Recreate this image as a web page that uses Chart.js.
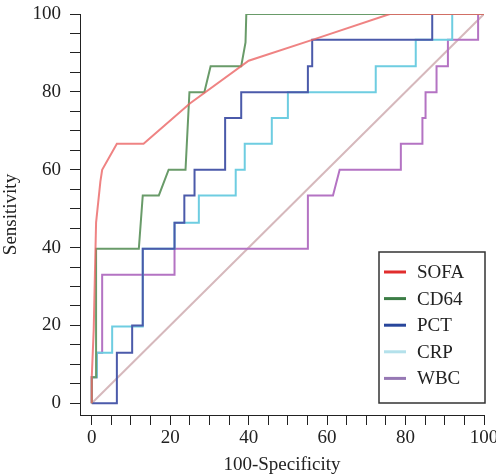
<!DOCTYPE html>
<html>
<head>
<meta charset="utf-8">
<script src="https://cdn.jsdelivr.net/npm/chart.js@4/dist/chart.umd.min.js"></script>
<style>
  html, body { margin: 0; padding: 0; background: #fff; }
  #rocChart { display: block; }
</style>
</head>
<body>
<canvas id="rocChart" width="496" height="476"></canvas>
<script>
// Curvas ROC: [100-Especificidad, Sensibilidad]
const curvaSOFA = [[0,0],[0,6.7],[0.5,19],[0.8,33],[1.1,46.4],[2.2,57],[2.65,60],[6.4,66.7],[13.2,66.7],
    [25,77],[40,88],[57,93.6],[76,100],[100,100]];
const curvaCD64 = [[0,0],[0,6.7],[1.1,6.7],[1.1,39.7],[12,39.7],[13,53.4],[17.1,53.4],[19.6,60],[23.9,60],
    [24.9,79.9],[28.7,79.9],[30.3,86.6],[38.1,86.6],[39.2,92.7],[39.4,100],[100,100]];
const curvaPCT = [[0,0],[6.4,0],[6.4,13],[10.3,13],[10.3,20],[13,20],[13,39.7],[21.1,39.7],[21.1,46.4],
    [23.6,46.4],[23.6,53.4],[26.2,53.4],[26.2,60],[34,60],[34,73.3],[38.1,73.3],[38.1,79.9],[55.1,79.9],
    [55.1,86.6],[56.2,86.6],[56.2,93.4],[86.8,93.4],[86.8,100],[100,100]];
const curvaCRP = [[0,0],[0,6.7],[1.3,6.7],[1.3,13],[5.2,13],[5.2,19.7],[13,19.7],[13,39.7],[21.1,39.7],
    [21.1,46.4],[27.3,46.4],[27.3,53.4],[36.7,53.4],[36.7,60],[39,60],[39,66.7],[45.9,66.7],[45.9,73.3],
    [50,73.3],[50,79.9],[72.4,79.9],[72.4,86.6],[82.6,86.6],[82.6,93.4],[91.9,93.4],[91.9,100],[100,100]];
const curvaWBC = [[0,0],[0,6.7],[1.3,6.7],[1.3,13],[2.65,13],[2.65,33],[21.1,33],[21.1,39.7],[55.1,39.7],
    [55.1,53.4],[61.5,53.4],[63.2,60],[78.8,60],[78.8,66.7],[84.3,66.7],[84.3,73.3],[85.1,73.3],[85.1,79.9],
    [87.9,79.9],[87.9,86.6],[90.8,86.6],[90.8,93.4],[98.5,93.4],[98.5,100],[100,100]];
const lineaReferencia = [[0,0],[100,100]];

const etiquetas = ['SOFA', 'CD64', 'PCT', 'CRP', 'WBC'];
const ticksEje = [0, 20, 40, 60, 80, 100];

const fuente = "'Liberation Serif', 'Times New Roman', serif";

function aPuntos(curva) {
    return curva.map(p => ({ x: p[0], y: p[1] }));
}

function serie(label, curva, color, colorLeyenda) {
    return {
        label: label,
        data: aPuntos(curva),
        borderColor: color,
        colorLeyenda: colorLeyenda,
        borderWidth: 2,
        pointRadius: 0,
        tension: 0,
        fill: false
    };
}

// Leyenda con recuadro dentro del área del gráfico
const leyendaRecuadro = {
    id: 'leyendaRecuadro',
    afterDraw(chart) {
        const ctx = chart.ctx;
        ctx.save();
        ctx.strokeStyle = '#333';
        ctx.lineWidth = 1.5;
        ctx.fillStyle = '#fff';
        ctx.fillRect(379, 252, 106, 151);
        ctx.strokeRect(379, 252, 106, 151);
        ctx.font = '19px ' + fuente;
        ctx.textBaseline = 'middle';
        chart.data.datasets.forEach((ds, i) => {
            if (!ds.colorLeyenda) return;
            const y = 272 + i * 26.6;
            ctx.strokeStyle = ds.colorLeyenda;
            ctx.lineWidth = 3;
            ctx.beginPath();
            ctx.moveTo(384, y);
            ctx.lineTo(406, y);
            ctx.stroke();
            ctx.fillStyle = '#222';
            ctx.fillText(ds.label, 417, y + 1);
        });
        ctx.restore();
    }
};

function quitarNegativos(scale) {
    scale.ticks = scale.ticks.filter(t => t.value >= 0);
}

function ejeComun(titulo) {
    return {
        type: 'linear',
        min: -3,
        max: 100,
        border: { display: true, color: '#222', width: 1 },
        grid: { drawOnChartArea: false, drawTicks: true, tickLength: 10, color: '#222' },
        ticks: {
            stepSize: 5,
            includeBounds: false,
            color: '#222',
            font: { family: fuente, size: 19 },
            callback: v => ticksEje.includes(v) ? String(v) : ''
        },
        title: { display: true, text: titulo, color: '#222', font: { family: fuente, size: 19 } },
        afterBuildTicks: quitarNegativos
    };
}

const ejeX = ejeComun('100-Specificity');
ejeX.ticks.padding = 2;
ejeX.ticks.maxRotation = 0;
ejeX.ticks.autoSkip = false;
ejeX.title.padding = { top: 0, bottom: 0 };
ejeX.afterFit = function(scale) {
    scale.height = 61;
    scale.paddingLeft = 0;
    scale.paddingRight = 0;
};

const ejeY = ejeComun('Sensitivity');
ejeY.ticks.padding = 9;
ejeY.ticks.autoSkip = false;
ejeY.title.padding = { top: 0, bottom: 0 };
ejeY.afterFit = function(scale) {
    scale.width = 80;
    scale.paddingTop = 0;
    scale.paddingBottom = 0;
};

new Chart(document.getElementById('rocChart').getContext('2d'), {
    type: 'line',
    data: {
        datasets: [
            serie(etiquetas[0], curvaSOFA, 'rgba(235,100,100,0.8)', 'rgb(225,45,45)'),
            serie(etiquetas[1], curvaCD64, 'rgb(105,155,105)', 'rgb(60,125,70)'),
            serie(etiquetas[2], curvaPCT, 'rgb(75,90,170)', 'rgb(40,70,155)'),
            serie(etiquetas[3], curvaCRP, 'rgb(110,205,225)', 'rgb(180,225,235)'),
            serie(etiquetas[4], curvaWBC, 'rgb(180,115,195)', 'rgb(150,120,180)'),
            {
                label: 'ref',
                data: aPuntos(lineaReferencia),
                borderColor: 'rgba(200,160,165,0.75)',
                borderWidth: 2,
                pointRadius: 0,
                fill: false
            }
        ]
    },
    options: {
        responsive: false,
        animation: false,
        devicePixelRatio: 1,
        layout: { padding: { top: 14, right: 12, left: 0, bottom: 0 } },
        scales: { x: ejeX, y: ejeY },
        plugins: {
            legend: { display: false },
            tooltip: { enabled: false }
        }
    },
    plugins: [leyendaRecuadro]
});
</script>
</body>
</html>
